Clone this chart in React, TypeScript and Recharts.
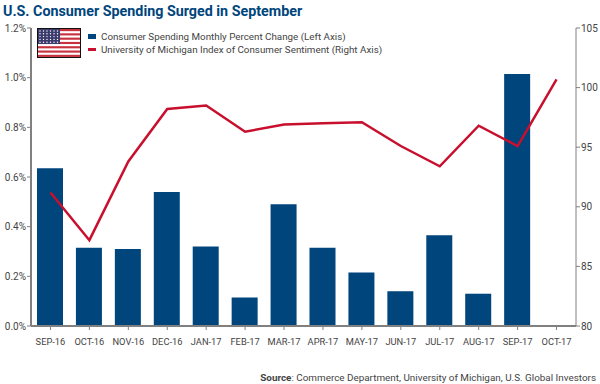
import { ComposedChart, Bar, Line, XAxis, YAxis } from "recharts";

const months = ["SEP-16", "OCT-16", "NOV-16", "DEC-16", "JAN-17", "FEB-17", "MAR-17", "APR-17", "MAY-17", "JUN-17", "JUL-17", "AUG-17", "SEP-17", "OCT-17"];
const spending = [0.635, 0.315, 0.31, 0.54, 0.32, 0.115, 0.49, 0.315, 0.215, 0.14, 0.365, 0.13, 1.015, null];
const sentiment = [91.2, 87.2, 93.8, 98.2, 98.5, 96.3, 96.9, 97, 97.1, 95.1, 93.4, 96.8, 95.1, 100.7];
const leftTicks = [0, 0.2, 0.4, 0.6, 0.8, 1.0, 1.2];
const rightTicks = [80, 85, 90, 95, 100, 105];

const data = months.map((m, i) => ({ month: m, spending: spending[i], sentiment: sentiment[i] }));

const FONT = "Roboto, sans-serif";
const BLUE = "#00457c";
const RED = "#c8102e";
const AXIS = "#808080";
const TEXT = "#444";

function Flag() {
  const stripes = Array.from({ length: 13 }, (_, i) => i);
  const stars = Array.from({ length: 6 * 5 }, (_, i) => i);
  return (
    <svg width={44} height={30} style={{ position: "absolute", left: 37, top: 28 }}>
      <rect width={44} height={30} fill="#fff" />
      {stripes.map((i) =>
        i % 2 === 0 ? <rect key={i} x={0} y={1 + i * 2.15} width={44} height={2.15} fill="#c8313e" /> : null
      )}
      <rect x={1} y={1} width={22} height={15} fill="#3c3b6e" />
      {stars.map((i) => (
        <circle key={i} cx={3 + (i % 6) * 3.5} cy={3 + Math.floor(i / 6) * 2.8} r={0.7} fill="#fff" />
      ))}
      <rect x={0.5} y={0.5} width={43} height={29} fill="none" stroke="#111" />
    </svg>
  );
}

export default function App() {
  return (
    <div style={{ position: "absolute", left: 0, top: 0, width: 600, height: 384, background: "#fff", fontFamily: FONT, overflow: "hidden" }}>
      <div style={{ position: "absolute", left: 3, top: 1, fontSize: 14.3, fontWeight: 700, color: BLUE, lineHeight: "20px", whiteSpace: "nowrap" }}>
        U.S. Consumer Spending Surged in September
      </div>
      <ComposedChart
        width={600}
        height={384}
        data={data}
        margin={{ top: 28, right: 0, bottom: 0, left: 0 }}
      >
        <XAxis
          dataKey="month"
          interval={0}
          height={58}
          tick={{ fill: TEXT, fontSize: 9.3, fontFamily: FONT, dy: 6 }}
          tickSize={4}
          tickLine={{ stroke: AXIS }}
          axisLine={{ stroke: AXIS, strokeWidth: 2 }}
        />
        <YAxis
          yAxisId="left"
          width={31}
          domain={[0, 1.2]}
          ticks={leftTicks}
          tickFormatter={(v) => `${v.toFixed(1)}%`}
          tick={{ fill: TEXT, fontSize: 10, fontFamily: FONT }}
          tickSize={4}
          tickMargin={1}
          tickLine={{ stroke: AXIS }}
          axisLine={{ stroke: AXIS, strokeWidth: 2 }}
        />
        <YAxis
          yAxisId="right"
          orientation="right"
          width={24}
          domain={[80, 105]}
          ticks={rightTicks}
          tick={{ fill: TEXT, fontSize: 10, fontFamily: FONT }}
          tickSize={4}
          tickMargin={1}
          tickLine={{ stroke: AXIS }}
          axisLine={{ stroke: AXIS, strokeWidth: 1 }}
        />
        <Bar yAxisId="left" dataKey="spending" fill={BLUE} barSize={26} isAnimationActive={false} />
        <Line yAxisId="right" dataKey="sentiment" stroke={RED} strokeWidth={2.5} dot={false} isAnimationActive={false} />
      </ComposedChart>
      <Flag />
      <div style={{ position: "absolute", left: 88, top: 34, width: 8, height: 5, background: BLUE }} />
      <div style={{ position: "absolute", left: 88, top: 48, width: 8, height: 2.5, background: RED }} />
      <div style={{ position: "absolute", left: 101, top: 30, fontSize: 9.8, color: TEXT, lineHeight: "13px", whiteSpace: "nowrap" }}>
        Consumer Spending Monthly Percent Change (Left Axis)
      </div>
      <div style={{ position: "absolute", left: 101, top: 43, fontSize: 9.8, color: TEXT, lineHeight: "13px", whiteSpace: "nowrap" }}>
        University of Michigan Index of Consumer Sentiment (Right Axis)
      </div>
      <div style={{ position: "absolute", right: 4, top: 371, fontSize: 9.9, color: TEXT, lineHeight: "13px", whiteSpace: "nowrap" }}>
        <b>Source</b>: Commerce Department, University of Michigan, U.S. Global Investors
      </div>
    </div>
  );
}
